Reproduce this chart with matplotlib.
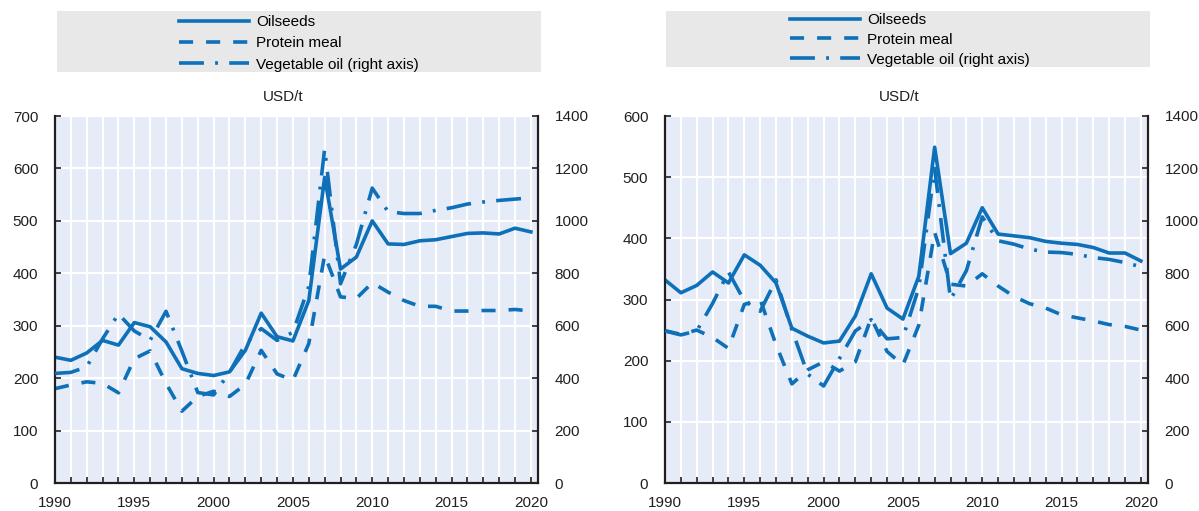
import matplotlib
matplotlib.use("Agg")
import matplotlib.pyplot as plt
from matplotlib.lines import Line2D
from matplotlib.patches import Rectangle
from matplotlib.ticker import MultipleLocator

plt.rcParams['font.family'] = ['Liberation Sans', 'DejaVu Sans']
plt.rcParams['font.size'] = 11

# ---------------------------------------------------------------------
# Data (USD/t) --------------------------------------------------------
# ---------------------------------------------------------------------
years = list(range(1990, 2021))

# left panel
oilseeds_l = [240, 234, 248, 272, 263, 306, 298, 269, 218, 209, 205, 212, 253, 324, 279, 271,
              348, 583, 408, 431, 500, 456, 455, 462, 464, 470, 476, 477, 475, 486, 479]
protein_l = [180, 187, 193, 190, 172, 237, 252, 190, 137, 165, 175, 165, 188, 253, 208, 196,
             266, 435, 355, 352, 382, 364, 348, 337, 337, 328, 328, 329, 329, 331, 328]
vegoil_l = [418, 422, 443, 550, 645, 580, 545, 655, 503, 345, 336, 422, 530, 589, 544, 575,
            750, 1275, 760, 910, 1125, 1035, 1028, 1028, 1040, 1050, 1064, 1072, 1078, 1083, 1088]

# right panel
oilseeds_r = [332, 311, 323, 345, 327, 373, 356, 327, 253, 240, 229, 232, 273, 342, 286, 268,
              338, 549, 375, 392, 450, 407, 404, 401, 395, 392, 390, 385, 376, 376, 363]
protein_r = [249, 243, 250, 238, 220, 292, 300, 226, 162, 185, 198, 183, 198, 270, 215, 193,
             258, 410, 325, 322, 342, 322, 305, 293, 286, 275, 270, 265, 259, 256, 250]
vegoil_r = [580, 565, 580, 685, 805, 695, 655, 775, 585, 415, 370, 475, 580, 623, 550, 555,
            745, 1200, 700, 810, 1015, 924, 911, 892, 881, 879, 872, 860, 853, 841, 825]

labels = ['Oilseeds', 'Protein meal', 'Vegetable oil (right axis)']

# ---------------------------------------------------------------------
blue = '#0D70B8'
bg = '#E6ECF7'
dark = '#231F20'
lw = 2.6
dash_p = (0, (3.9, 3.6))
dashdot_p = (0, (6.9, 3.1, 0.8, 3.1))

W, H = 1199, 511
fig = plt.figure(figsize=(W / 100, H / 100), dpi=100)


def panel(x0, oil, prot, veg, ymax, leg_x, leg_top, leg_sp, leg_box, unit_x):
    ax = fig.add_axes([x0 / W, 28 / H, 483 / W, 367 / H])
    ax.set_facecolor(bg)
    ax2 = ax.twinx()

    ax.plot(years, oil, color=blue, lw=lw, linestyle='-')
    ax.plot(years, prot, color=blue, lw=lw, linestyle=dash_p)
    ax2.plot(years, veg, color=blue, lw=lw, linestyle=dashdot_p)

    ax.set_xlim(1990, 2020.45)
    ax.set_ylim(0, ymax)
    ax2.set_ylim(0, 1400)
    ax.xaxis.set_major_locator(MultipleLocator(5))
    ax.xaxis.set_minor_locator(MultipleLocator(1))
    ax.yaxis.set_major_locator(MultipleLocator(100))
    ax2.yaxis.set_major_locator(MultipleLocator(200))

    ax.set_axisbelow(True)
    ax.grid(True, which='both', axis='x', color='white', lw=1.5)
    ax.grid(True, which='major', axis='y', color='white', lw=1.5)

    for a in (ax, ax2):
        a.tick_params(axis='both', which='both', direction='in', length=4, width=1.2,
                      color=dark, labelcolor=dark, labelsize=11)
        a.tick_params(axis='y', pad=12)
        for s in a.spines.values():
            s.set_color(dark)
            s.set_linewidth(1.6)
        a.spines['top'].set_visible(False)
    ax.tick_params(axis='x', pad=9.5)
    ax.spines['right'].set_visible(False)
    ax2.spines['left'].set_visible(False)
    ax2.spines['bottom'].set_visible(False)

    # legend box
    bx0, by0, bx1, by1 = leg_box
    fig.patches.append(Rectangle((bx0 / W, 1 - by1 / H), (bx1 - bx0) / W, (by1 - by0) / H,
                                 transform=fig.transFigure, facecolor='#E8E8E8',
                                 edgecolor='none', zorder=0))
    handles = [Line2D([], [], color=blue, lw=lw, linestyle='-'),
               Line2D([], [], color=blue, lw=lw, linestyle=dash_p),
               Line2D([], [], color=blue, lw=lw, linestyle=dashdot_p)]
    fig.legend(handles, labels, loc='upper left', bbox_to_anchor=(leg_x / W, 1 - leg_top / H),
               frameon=False, borderpad=0, borderaxespad=0, handlelength=4.6,
               handletextpad=0.45, labelspacing=leg_sp, fontsize=11)

    fig.text(unit_x / W, 1 - 97 / H, 'USD/t', ha='center', va='center', fontsize=11, color=dark)
    return ax


panel(55, oilseeds_l, protein_l, vegoil_l, 700, 179, 15, 0.48, (57, 11, 541, 72.5), 283)
panel(665, oilseeds_r, protein_r, vegoil_r, 600, 790, 13, 0.38, (666, 11, 1150, 67.5), 899)

plt.savefig('out.png', dpi=100)
